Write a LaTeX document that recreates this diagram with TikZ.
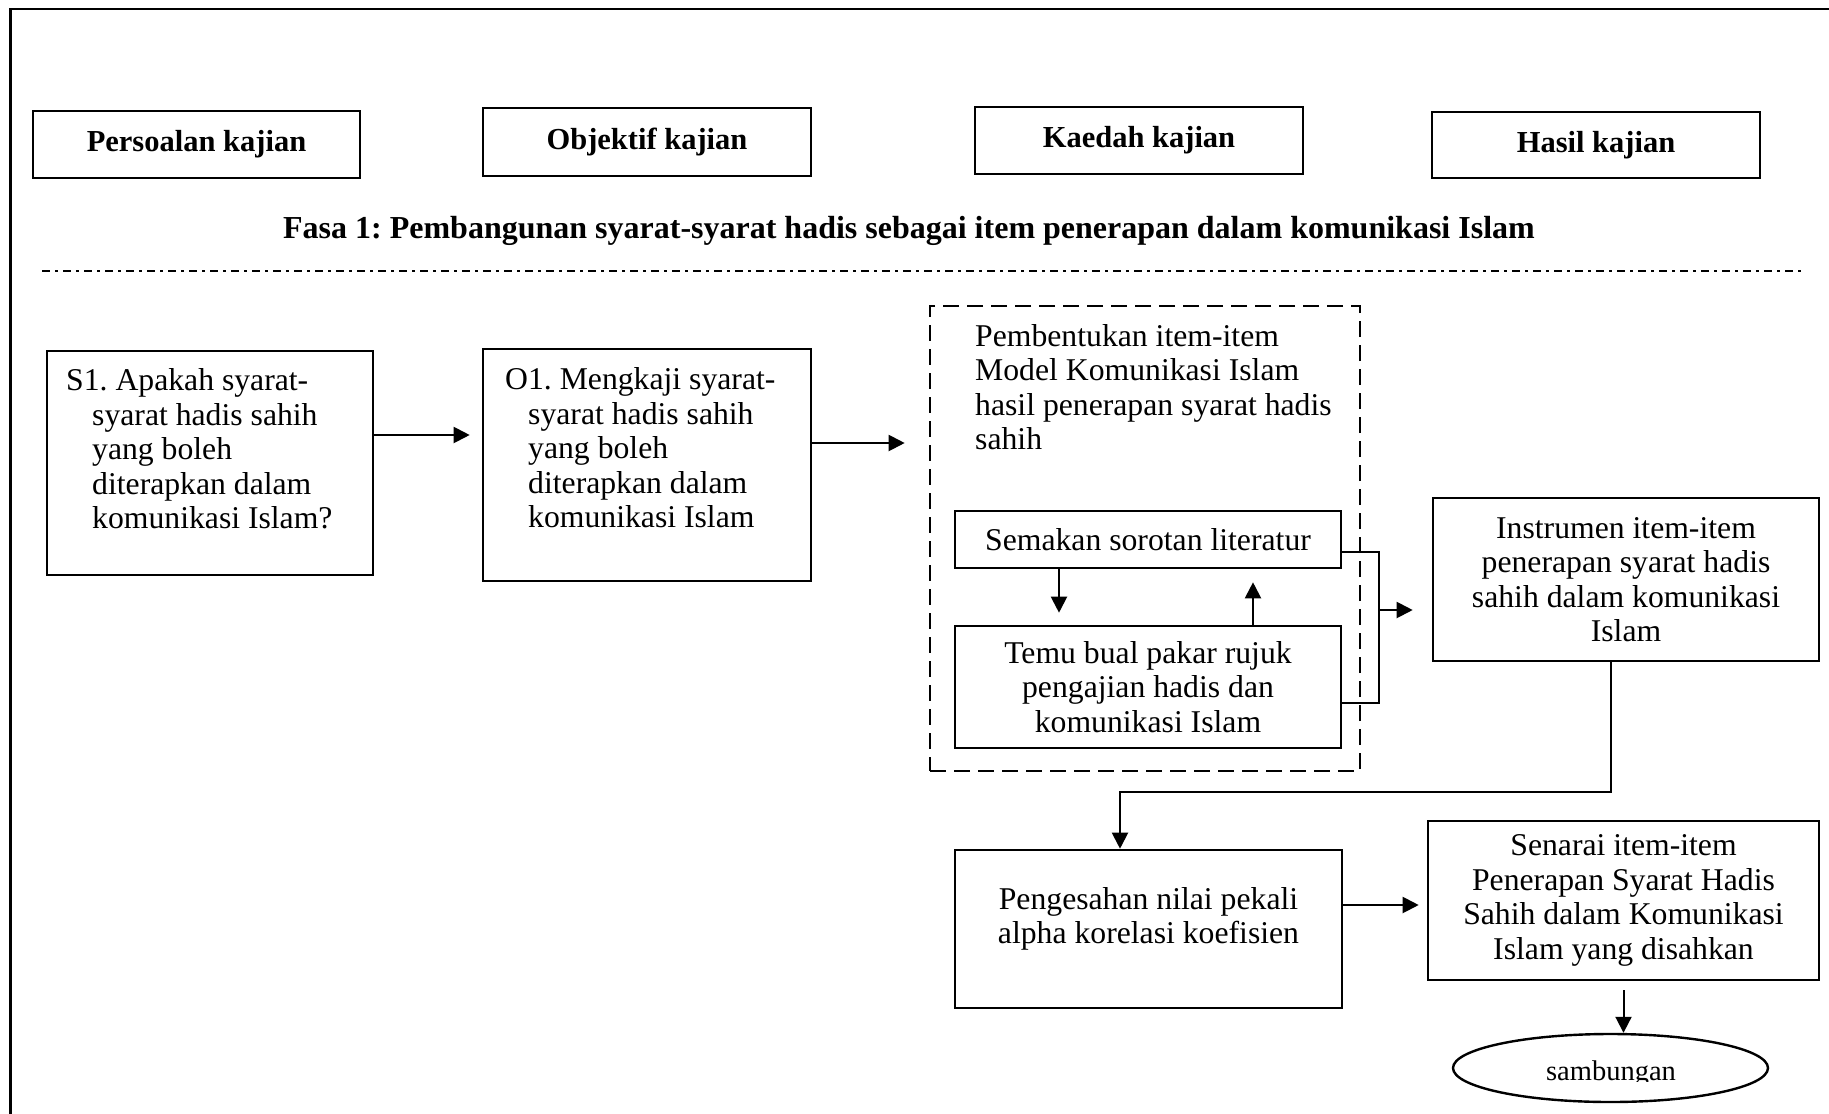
\documentclass[tikz,border=0pt]{standalone}
\usepackage{fontspec}
\setmainfont{Liberation Serif}
\usetikzlibrary{arrows.meta,shapes.geometric,calc}
\frenchspacing
\begin{document}
\begin{tikzpicture}[x=1pt,y=-1pt,
  box/.style={draw, line width=2.6pt, rectangle, inner sep=0pt},
  hdr/.style={box, font=\fontsize{30.5}{36}\selectfont\bfseries},
  tbox/.style={box, align=center, font=\fontsize{31.7}{34.5}\selectfont},
  txt/.style={inner sep=0pt, font=\fontsize{31.7}{34.5}\selectfont},
  arr/.style={line width=2pt, -{Triangle[length=16pt,width=16pt]}},
  ln/.style={line width=2pt},
]
\useasboundingbox (0,0) rectangle (1829,1114);
\fill[white] (0,0) rectangle (1829,1114);
% outer frame (left and top edges visible)
\draw[line width=2.6pt] (10.5,1125) -- (10.5,9) -- (1840,9);

% header boxes
\node[hdr, minimum width=327pt, minimum height=67pt] (h1) at (196.5,144.5) {Persoalan kajian};
\node[hdr, minimum width=328pt, minimum height=68pt] (h2) at (647,142) {Objektif kajian};
\node[hdr, minimum width=328pt, minimum height=67pt] (h3) at (1139,140.5) {Kaedah kajian};
\node[hdr, minimum width=328pt, minimum height=66pt] (h4) at (1596,145) {Hasil kajian};

% phase title and separator
\node[inner sep=0pt, font=\fontsize{32}{38}\selectfont\bfseries] (title) at (909,231)
  {Fasa 1: Pembangunan syarat-syarat hadis sebagai item penerapan dalam komunikasi Islam};
\draw[line width=2pt, dash pattern=on 8pt off 5pt on 2.5pt off 5.5pt] (42,271) -- (1805,271);

% S1 and O1
\node[box, minimum width=326pt, minimum height=224pt] (s1) at (210,463) {};
\node[txt, align=left, anchor=west] (s1t) at (66,449)
  {S1. Apakah syarat-\\\hspace*{26pt}syarat hadis sahih\\\hspace*{26pt}yang boleh\\\hspace*{26pt}diterapkan dalam\\\hspace*{26pt}komunikasi Islam?};
\node[box, minimum width=328pt, minimum height=232pt] (o1) at (647,465) {};
\node[txt, align=left, anchor=west] (o1t) at (505,448)
  {O1. Mengkaji syarat-\\\hspace*{23pt}syarat hadis sahih\\\hspace*{23pt}yang boleh\\\hspace*{23pt}diterapkan dalam\\\hspace*{23pt}komunikasi Islam};

% method group
\node[draw, line width=2.6pt, dash pattern=on 16pt off 8pt, inner sep=0pt,
      minimum width=430pt, minimum height=465pt] (grp) at (1145,538.5) {};
\node[txt, align=left, anchor=west] (grpt) at (975,387)
  {Pembentukan item-item\\Model Komunikasi Islam\\hasil penerapan syarat hadis\\sahih};
\node[tbox, minimum width=386pt, minimum height=57pt] (sem) at (1148,539.5) {Semakan sorotan literatur};
\node[tbox, minimum width=386pt, minimum height=122pt] (temu) at (1148,687)
  {Temu bual pakar rujuk\\pengajian hadis dan\\komunikasi Islam};

% results
\node[tbox, minimum width=386pt, minimum height=163pt] (inst) at (1626,579.5)
  {Instrumen item-item\\penerapan syarat hadis\\sahih dalam komunikasi\\Islam};
\node[box, minimum width=387pt, minimum height=158pt] (peng) at (1148.5,929) {};
\node[txt, align=center] (pengt) at (1148.5,919) {Pengesahan nilai pekali\\alpha korelasi koefisien};
\node[tbox, minimum width=391pt, minimum height=159pt] (sen) at (1623.5,900.5)
  {Senarai item-item\\Penerapan Syarat Hadis\\Sahih dalam Komunikasi\\Islam yang disahkan};
\node[draw, ellipse, line width=2.4pt, inner sep=0pt, minimum width=315pt, minimum height=68pt] (sam) at (1610.5,1068) {};
\begin{scope}
  \clip (1440,1020) rectangle (1780,1081);
  \node[inner sep=0pt, anchor=base, font=\fontsize{28.5}{34}\selectfont] (samt) at (1611,1080) {sambungan};
\end{scope}

% connectors
\draw[arr, shorten >=12pt] ([yshift=28pt]s1.east) -- ([yshift=28pt]s1.east -| o1.west);
\draw[arr, shorten >=24pt] ([yshift=22pt]o1.east) -- ([yshift=22pt]o1.east -| grp.west);
\draw[arr, shorten >=12pt] ([xshift=-89pt]sem.south) -- ([xshift=-89pt]sem.south |- temu.north);
\draw[arr, shorten >=13pt] ([xshift=105pt]temu.north) -- ([xshift=105pt]temu.north |- sem.south);
\coordinate (bj) at (1379,610);
\draw[ln] ([yshift=-12.5pt]sem.east) -| (bj);
\draw[ln] ([yshift=-16pt]temu.east) -| (bj);
\draw[arr, shorten >=19pt] (bj) -- (bj -| inst.west);
\draw[arr] ([xshift=-15pt]inst.south) -- ++(0,130) -| ([xshift=-28.5pt]peng.north);
\draw[arr, shorten >=8pt] ([yshift=24pt]peng.east) -- ([yshift=24pt]peng.east -| sen.west);
\draw[arr, shorten <=9pt] (sen.south) -- (sen.south |- sam.north);
\end{tikzpicture}
\end{document}
